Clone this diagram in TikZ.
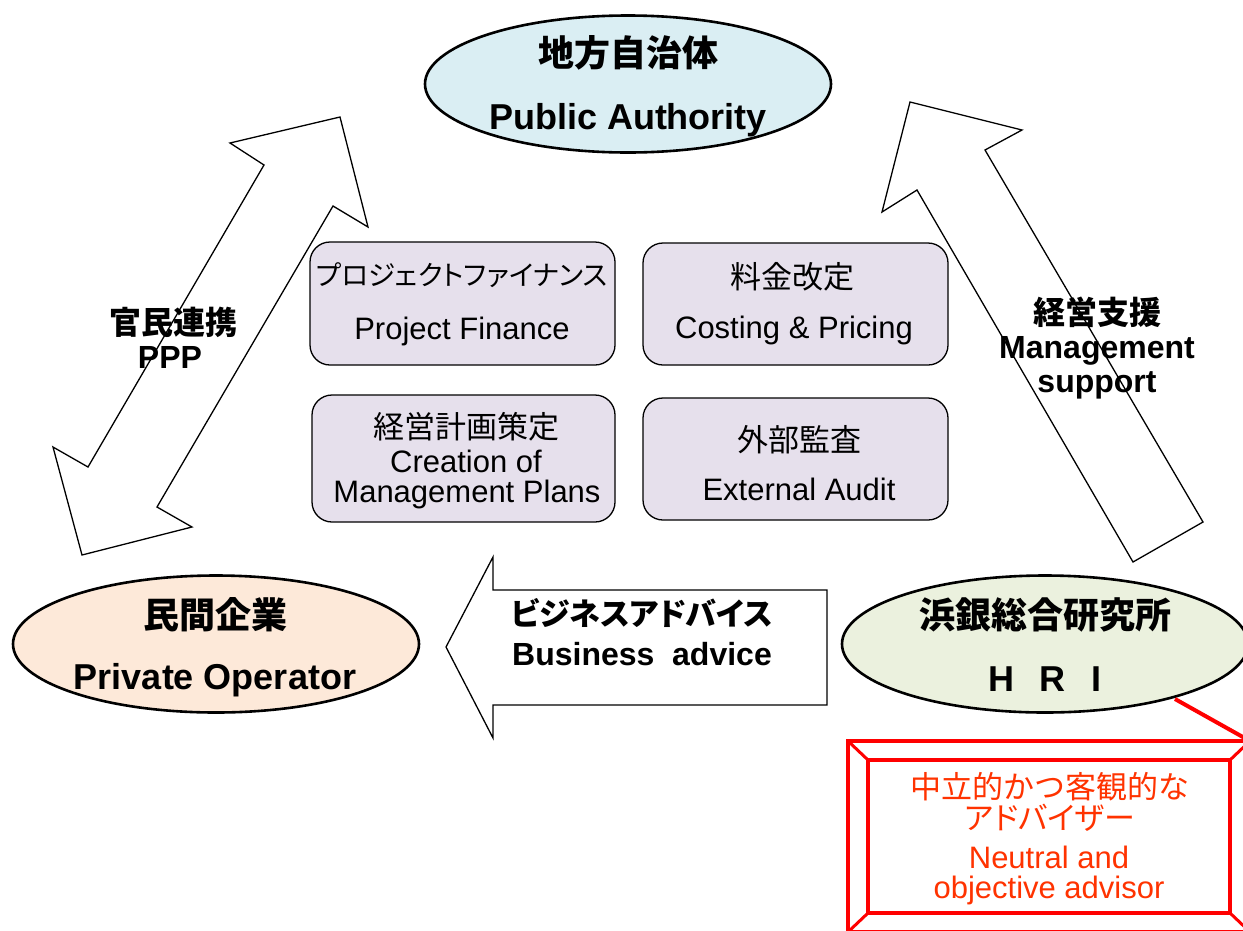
\documentclass[tikz,border=0pt]{standalone}
\usepackage{fontspec}
\setmainfont{Liberation Sans}
\newfontfamily\jp{Noto Sans CJK JP}
\newfontfamily\jpp[RawFeature=+palt]{Noto Sans CJK JP}
\usetikzlibrary{shapes.geometric,backgrounds}
\definecolor{pablue}{HTML}{DAEEF3}
\definecolor{popeach}{HTML}{FDE9D9}
\definecolor{hrigreen}{HTML}{EBF1DE}
\definecolor{boxfill}{HTML}{E6E0EC}
\definecolor{frred}{HTML}{FF0000}
\definecolor{txred}{HTML}{FF3300}
\tikzset{
  bigell/.style={ellipse, draw=black, line width=2.6pt, minimum width=406pt, minimum height=137pt, inner sep=0pt},
  taskbox/.style={rectangle, rounded corners=20pt, draw=black, line width=1.3pt, fill=boxfill, inner sep=0pt},
  blockarrow/.style={draw=black, line width=1.3pt, line join=miter},
  lbl/.style={inner sep=0pt, anchor=center},
  bigb/.style={lbl, font=\fontsize{36}{40}\selectfont\bfseries},
  midb/.style={lbl, font=\fontsize{32}{36}\selectfont\bfseries},
  reg/.style={lbl, font=\fontsize{31}{35}\selectfont},
  redt/.style={lbl, text=txred, font=\fontsize{31}{35}\selectfont},
  redframe/.style={draw=frred, line width=4pt},
  redbevel/.style={draw=frred, line width=3pt},
}
\begin{document}
\begin{tikzpicture}[x=1pt,y=-1pt]
\useasboundingbox (0,0) rectangle (1243,930);
\clip (0,0) rectangle (1243,930);

% ---- block arrows ----
% PPP double arrow
\draw[blockarrow] (340,117) -- (368,227) -- (333,206) -- (157,507) -- (192,527) -- (82,555)
   -- (53,447) -- (88,467) -- (264,165) -- (230,143) -- cycle;
% management support arrow
\draw[blockarrow] (910,102) -- (1022,130) -- (985,150) -- (1203,522) -- (1133,562)
   -- (917,190) -- (882,212) -- cycle;
% business advice arrow
\draw[blockarrow] (446,647) -- (493,557) -- (493,590) -- (827,590) -- (827,705)
   -- (493,705) -- (493,738) -- cycle;

% ---- ellipses ----
\node[bigell, fill=pablue] (pa) at (628,84) {};
\node[bigell, fill=popeach] (po) at (216,644) {};
\node[bigell, fill=hrigreen] (hri) at (1045,644) {};

\node[bigb] (paj) at (628,53) {\jp 地方自治体};
\node[bigb] (pae) at (628,120) {Public Authority};
\node[bigb] (poj) at (215,615) {\jp 民間企業};
\node[bigb] (poe) at (215,680) {Private Operator};
\node[bigb] (hrij) at (1045,615) {\jp 浜銀総合研究所};
\node[bigb] (hrie) at (1045,679) {H\hspace{26pt}R\hspace{26pt}I};

% ---- task boxes ----
\node[taskbox, minimum width=305pt, minimum height=123pt] (b1) at (462.5,303.5) {};
\node[taskbox, minimum width=305pt, minimum height=122pt] (b2) at (795.5,304) {};
\node[taskbox, minimum width=303pt, minimum height=127pt] (b3) at (463.5,458.5) {};
\node[taskbox, minimum width=305pt, minimum height=122pt] (b4) at (795.5,459) {};

\node[lbl, font=\fontsize{27.5}{31}\selectfont] (b1j) at (462,275) {\jpp プロジェクトファイナンス};
\node[reg] (b1e) at (462,331) {Project Finance};
\node[reg] (b2j) at (792,277) {\jp 料金改定};
\node[reg] (b2e) at (794,330) {Costing \& Pricing};
\node[reg] (b3j) at (466,427) {\jp 経営計画策定};
\node[reg] (b3e) at (466,461) {Creation of};
\node[reg] (b3f) at (467,494) {Management Plans};
\node[reg] (b4j) at (799,440) {\jp 外部監査};
\node[reg] (b4e) at (799,489) {External Audit};

% ---- arrow labels ----
\node[midb] (pppj) at (173,322) {\jp 官民連携};
\node[midb] (ppp) at (170,357) {PPP};
\node[midb] (msj) at (1097,312) {\jp 経営支援};
\node[midb] (mse) at (1097,351) {Management};
\node[midb] (msf) at (1097,385) {support};
\node[lbl, font=\fontsize{31}{35}\selectfont\bfseries] (baj) at (642,613) {\jpp ビジネスアドバイス};
\node[midb] (bae) at (642,654) {Business\ \ advice};

% ---- red callout frame ----
\coordinate (fo1) at (848,741);
\coordinate (fo2) at (1250,741);
\coordinate (fo3) at (1250,932);
\coordinate (fo4) at (848,932);
\coordinate (fi1) at (868,760);
\coordinate (fi2) at (1230,760);
\coordinate (fi3) at (1230,913);
\coordinate (fi4) at (868,913);
\coordinate (cl) at (1175,699);
\draw[redframe] (cl) -- (fo2);
\draw[redframe, fill=white] (fo1) rectangle (fo3);
\draw[redbevel] (fo1) -- (fi1) (fo2) -- (fi2) (fo3) -- (fi3) (fo4) -- (fi4);
\draw[redframe] (fi1) rectangle (fi3);

\node[redt] (r1) at (1050,787) {\jp 中立的かつ客観的な};
\node[redt] (r2) at (1050,818) {\jpp アドバイザー};
\node[redt] (r3) at (1049,857) {Neutral and};
\node[redt] (r4) at (1049,890) {objective advisor};
\end{tikzpicture}
\end{document}
